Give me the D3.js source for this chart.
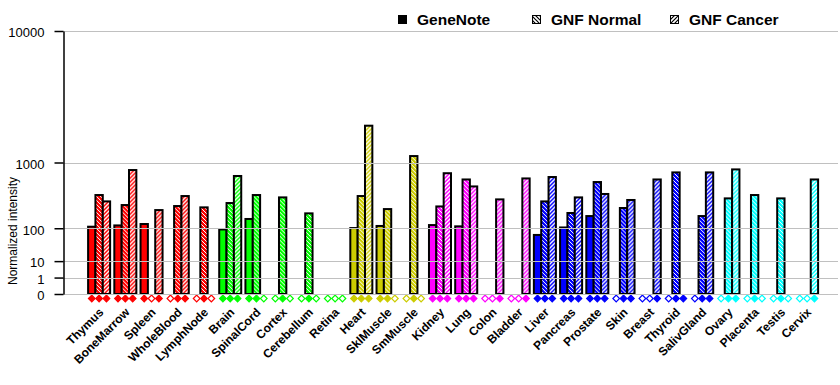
<!DOCTYPE html>
<html>
<head>
<meta charset="utf-8">
<script src="https://cdn.jsdelivr.net/npm/d3@7"></script>
<style>
    body { margin: 0; background: #fff; }
    svg { display: block; font-family: "Liberation Sans", Arial, sans-serif; }
</style>
</head>
<body>
<div id="chart"></div>
<script>
"use strict";

// Tissues, in plotted order
const tissues = ['Thymus', 'BoneMarrow', 'Spleen', 'WholeBlood', 'LymphNode',
    'Brain', 'SpinalCord', 'Cortex', 'Cerebellum', 'Retina',
    'Heart', 'SklMuscle', 'SmMuscle',
    'Kidney', 'Lung', 'Colon', 'Bladder',
    'Liver', 'Pancreas', 'Prostate', 'Skin', 'Breast', 'Thyroid', 'SalivGland',
    'Ovary', 'Placenta', 'Testis', 'Cervix'];
// Colour group of each tissue
const tissueGroups = ['blood', 'blood', 'blood', 'blood', 'blood',
    'neuro', 'neuro', 'neuro', 'neuro', 'neuro',
    'muscle', 'muscle', 'muscle',
    'organ', 'organ', 'organ', 'organ',
    'gland', 'gland', 'gland', 'gland', 'gland', 'gland', 'gland',
    'repro', 'repro', 'repro', 'repro'];
const groupNames = ['blood', 'neuro', 'muscle', 'organ', 'gland', 'repro'];
const groupColors = ['#FF0000', '#00FF00', '#CCCC00', '#FF00FF', '#0000FF', '#00FFFF'];

const seriesNames = ['GeneNote', 'GNF Normal', 'GNF Cancer'];
const geneNote = [108, 115, 123, 0, 0, 94, 155, 0, 0, 0,
    101, 112, 0, 117, 110, 0, 0, 70, 104, 176, 0, 0, 0, 0, 0, 0, 0, 0];
const gnfNormal = [389, 273, 0, 263, 250, 294, 389, 359, 197, 0,
    376, 234, 1172, 259, 632, 0, 0, 312, 200, 586, 244, 0, 771, 176,
    347, 389, 347, 0];
const gnfCancer = [312, 822, 225, 376, 0, 698, 0, 0, 0, 0,
    2270, 0, 0, 754, 513, 335, 651, 678, 359, 403, 328, 632, 0, 771,
    836, 0, 0, 632];
// Presence calls shown as diamonds under each bar (1 = present)
const presence = ['111', '111', '101', '011', '010', '111', '110', '010', '010', '000',
    '111', '110', '010', '111', '111', '001', '001', '111', '111', '111',
    '011', '001', '011', '011', '011', '010', '010', '001'];

const yTicks = [0, 1, 10, 100, 1000, 10000];

const W = 840, H = 385;
const margin = {left: 63, top: 31, right: 2, bottom: 91};

const svg = d3.select('#chart').append('svg')
    .attr('width', W)
    .attr('height', H);

// Series values per tissue
const rows = tissues.map(function (t, i) {
    return {name: t, group: tissueGroups[i],
            vals: [geneNote[i], gnfNormal[i], gnfCancer[i]],
            pres: presence[i].split('').map(Number)};
});
const color = d3.scaleOrdinal().domain(groupNames).range(groupColors);

// Axis looks like v^log10(2): each decade above 1 doubles the distance
const y = d3.scalePow()
    .exponent(Math.log10(2))
    .domain([0, 10000])
    .range([H - margin.bottom, margin.top]);
const x = d3.scaleBand()
    .domain(tissues)
    .range([86, 820.2])
    .paddingInner(0.16)
    .paddingOuter(0.08);
const xs = d3.scaleBand()
    .domain(seriesNames)
    .range([0, x.bandwidth()]);

// Hatch patterns: fine "\" for normal, wider "/" for cancer
const defs = svg.append('defs');
function addPattern(id, fill, ink, dir, width) {
    let p = defs.append('pattern')
        .attr('id', id)
        .attr('patternUnits', 'userSpaceOnUse')
        .attr('width', 4)
        .attr('height', 4);
    p.append('rect').attr('width', 4).attr('height', 4).attr('fill', fill);
    let d = dir === 'down' ? 'M-1,-1L5,5M-1,3L1,5M3,-1L5,1'
                           : 'M-1,5L5,-1M-1,1L1,-1M3,5L5,3';
    p.append('path').attr('d', d).attr('stroke', ink).attr('stroke-width', width);
}
groupNames.forEach(function (g, i) {
    addPattern('n-' + g, groupColors[i], '#fff', 'down', 1);
    addPattern('c-' + g, groupColors[i], '#fff', 'up', 1.4);
});
addPattern('n-legend', '#fff', '#000', 'down', 1.2);
addPattern('c-legend', '#fff', '#000', 'up', 1.2);

function barFill(g, s) {
    if (s === 0) return color(g);
    return 'url(#' + (s === 1 ? 'n-' : 'c-') + g + ')';
}

// Bars
const groups = svg.append('g').selectAll('g')
    .data(rows)
    .join('g')
    .attr('transform', function (d) { return 'translate(' + x(d.name) + ',0)'; });
groups.selectAll('rect')
    .data(function (d) {
        return d.vals.map(function (v, s) { return {g: d.group, v: v, s: s}; });
    })
    .join('rect')
    .attr('x', function (d) { return xs(seriesNames[d.s]); })
    .attr('width', xs.bandwidth())
    .attr('y', function (d) { return y(d.v); })
    .attr('height', function (d) { return y(0) - y(d.v); })
    .attr('fill', function (d) { return barFill(d.g, d.s); })
    .attr('stroke', '#000')
    .attr('stroke-width', 2);

// Grid lines (drawn over the bars, as in the original)
svg.append('g').selectAll('line')
    .data(yTicks)
    .join('line')
    .attr('x1', margin.left)
    .attr('x2', W - margin.right)
    .attr('y1', function (d) { return Math.round(y(d)) + 0.5; })
    .attr('y2', function (d) { return Math.round(y(d)) + 0.5; })
    .attr('stroke', '#c0c0c0')
    .attr('stroke-width', 1);

// Y axis
const yAxis = d3.axisLeft(y)
    .tickValues(yTicks)
    .tickFormat(d3.format('d'))
    .tickSize(9)
    .tickPadding(10)
    .tickSizeOuter(0);
const yg = svg.append('g')
    .attr('transform', 'translate(' + (margin.left + 0.5) + ',0)')
    .call(yAxis);
yg.select('.domain').attr('stroke', '#000').attr('stroke-width', 1.5);
yg.selectAll('.tick line').attr('stroke', '#000').attr('stroke-width', 1.5);
yg.selectAll('.tick text')
    .attr('font-size', 13)
    .attr('font-family', '"Liberation Sans", Arial, sans-serif')
    .attr('fill', '#000')
    .attr('dy', '0.45em');

svg.append('text')
    .attr('transform', 'translate(17,231) rotate(-90)')
    .attr('text-anchor', 'middle')
    .attr('font-size', 12)
    .text('Normalized intensity');

// Presence diamonds
const diamond = d3.symbol().type(d3.symbolSquare).size(22);
groups.selectAll('path.pres')
    .data(function (d) {
        return d.pres.map(function (p, s) { return {g: d.group, p: p, s: s}; });
    })
    .join('path')
    .classed('pres', true)
    .attr('d', diamond)
    .attr('transform', function (d) {
        return 'translate(' + (xs(seriesNames[d.s]) + xs.bandwidth() / 2) +
            ',' + (y(0) + 4.5) + ') rotate(45)';
    })
    .attr('fill', function (d) { return d.p ? color(d.g) : '#fff'; })
    .attr('stroke', function (d) { return color(d.g); })
    .attr('stroke-width', 1.2);

// Tissue labels, rotated
svg.append('g').selectAll('text')
    .data(tissues)
    .join('text')
    .attr('transform', function (d) {
        return 'translate(' + (x(d) + x.bandwidth() / 2 + 5) + ',313) rotate(-45)';
    })
    .attr('text-anchor', 'end')
    .attr('font-size', 12)
    .attr('font-weight', 'bold')
    .text(function (d) { return d; });

// Legend
const legendX = [398, 532, 670];
const leg = svg.append('g').selectAll('g')
    .data(seriesNames)
    .join('g')
    .attr('transform', function (d, i) { return 'translate(' + legendX[i] + ',0)'; });
leg.append('rect')
    .attr('x', 0.5)
    .attr('y', 15.5)
    .attr('width', 8)
    .attr('height', 8)
    .attr('fill', function (d, i) {
        return i === 0 ? '#000' : 'url(#' + (i === 1 ? 'n' : 'c') + '-legend)';
    })
    .attr('stroke', '#000')
    .attr('stroke-width', 1);
leg.append('text')
    .attr('x', 19)
    .attr('y', 25)
    .attr('font-size', 15.5)
    .attr('font-weight', 'bold')
    .text(function (d) { return d; });
</script>
</body>
</html>
